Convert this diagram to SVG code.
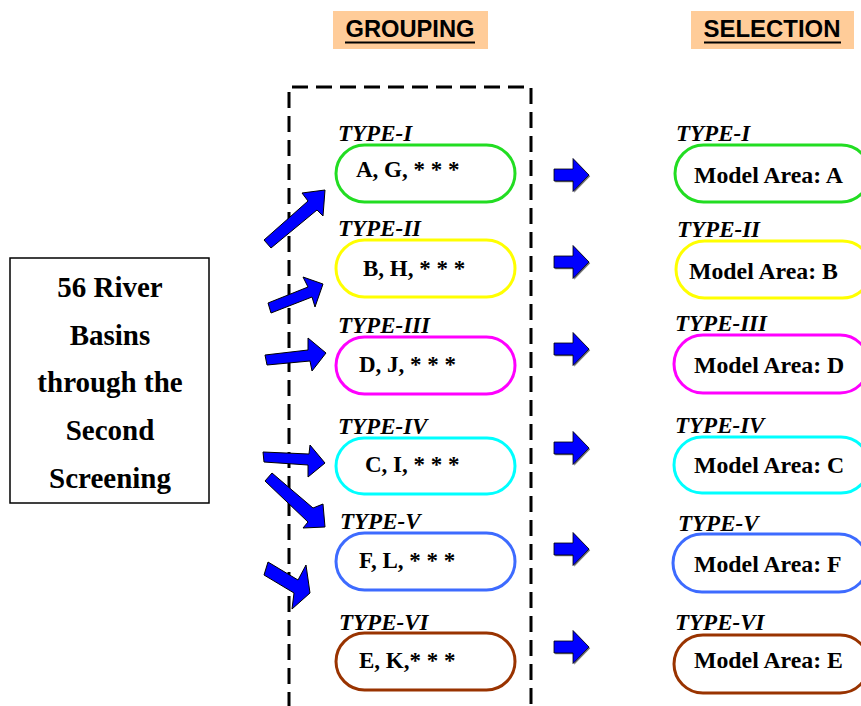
<svg xmlns="http://www.w3.org/2000/svg" width="861" height="706" viewBox="0 0 861 706">
  <style>
    .hdr { fill: #ffcc99; }
    .hdrtxt { font-family: "Liberation Sans", Arial, sans-serif; font-weight: bold; font-size: 24px; fill: #000; }
    .uline { stroke: #000; stroke-width: 1.8; }
    .type { font-family: "Liberation Serif", "Times New Roman", serif; font-weight: bold; font-style: italic; font-size: 23px; fill: #000; }
    .item { font-family: "Liberation Serif", "Times New Roman", serif; font-weight: bold; font-size: 23px; fill: #000; }
    .area { font-family: "Liberation Serif", "Times New Roman", serif; font-weight: bold; font-size: 23.8px; fill: #000; }
    .src { font-family: "Liberation Serif", "Times New Roman", serif; font-weight: bold; font-size: 29px; fill: #000; }
    .pill { fill: #fff; stroke-width: 3; }
    .frame { fill: none; stroke: #000; stroke-width: 3; stroke-dasharray: 16 8; }
    .fat { fill: #0000ff; stroke: #000; stroke-width: 1; stroke-linejoin: miter; }
    .c1 { stroke: #22dd22; }
    .c2 { stroke: #ffff00; }
    .c3 { stroke: #ff00ff; }
    .c4 { stroke: #00ffff; }
    .c5 { stroke: #3d6bff; }
    .c6 { stroke: #993300; }
  </style>
  <defs>
    <g id="rarrow">
      <path d="M1.2,-4.8 H20.2 V-15.3 L36.2,1.2 L20.2,17.7 V7.2 H1.2 Z" fill="#777"/>
      <path d="M0,-6 H19 V-16.5 L35,0 L19,16.5 V6 H0 Z" fill="#0000ff" stroke="#000" stroke-width="0.8"/>
    </g>
  </defs>

  <rect width="861" height="706" fill="#fff"/>

  <!-- column headers -->
  <g id="hdr-grouping">
    <rect class="hdr" x="333" y="11" width="155" height="38"/>
    <text class="hdrtxt" x="410" y="37" text-anchor="middle" textLength="129" lengthAdjust="spacingAndGlyphs">GROUPING</text>
    <line class="uline" x1="345" y1="42.5" x2="475" y2="42.5"/>
  </g>
  <g id="hdr-selection">
    <rect class="hdr" x="691" y="11" width="163" height="38"/>
    <text class="hdrtxt" x="772" y="37" text-anchor="middle" textLength="137" lengthAdjust="spacingAndGlyphs">SELECTION</text>
    <line class="uline" x1="704" y1="42.5" x2="841" y2="42.5"/>
  </g>

  <!-- source box -->
  <g id="source">
    <rect x="10" y="258" width="199" height="245" fill="#fff" stroke="#000" stroke-width="1.5"/>
    <text class="src" x="110" y="297" text-anchor="middle">56 River</text>
    <text class="src" x="110" y="345" text-anchor="middle">Basins</text>
    <text class="src" x="110" y="392" text-anchor="middle">through the</text>
    <text class="src" x="110" y="440" text-anchor="middle">Second</text>
    <text class="src" x="110" y="488" text-anchor="middle">Screening</text>
  </g>

  <!-- dashed grouping frame -->
  <path id="group-frame" class="frame" d="M289,708 V87 H531 V708"/>

  <!-- grouping column -->
  <g id="g-type1">
    <text class="type" x="338" y="141">TYPE-I</text>
    <rect class="pill c1" x="336" y="145" width="179" height="57" rx="28.5"/>
    <text class="item" x="356" y="177">A, G, * * *</text>
  </g>
  <g id="g-type2">
    <text class="type" x="338" y="236">TYPE-II</text>
    <rect class="pill c2" x="336" y="240" width="179" height="57" rx="28.5"/>
    <text class="item" x="363" y="276">B, H, * * *</text>
  </g>
  <g id="g-type3">
    <text class="type" x="338" y="333">TYPE-III</text>
    <rect class="pill c3" x="336" y="337" width="179" height="57" rx="28.5"/>
    <text class="item" x="359" y="372">D, J, * * *</text>
  </g>
  <g id="g-type4">
    <text class="type" x="338" y="434">TYPE-IV</text>
    <rect class="pill c4" x="336" y="438" width="179" height="56" rx="28"/>
    <text class="item" x="365" y="472">C, I, * * *</text>
  </g>
  <g id="g-type5">
    <text class="type" x="340" y="529">TYPE-V</text>
    <rect class="pill c5" x="336" y="533" width="179" height="57" rx="28.5"/>
    <text class="item" x="359" y="568">F, L, * * *</text>
  </g>
  <g id="g-type6">
    <text class="type" x="339" y="630">TYPE-VI</text>
    <rect class="pill c6" x="336" y="633" width="179" height="57" rx="28.5"/>
    <text class="item" x="359" y="668">E, K,* * *</text>
  </g>

  <!-- selection column -->
  <g id="s-type1">
    <text class="type" x="676" y="141">TYPE-I</text>
    <rect class="pill c1" x="675" y="145" width="195" height="57" rx="28.5"/>
    <text class="area" x="694" y="183">Model Area: A</text>
  </g>
  <g id="s-type2">
    <text class="type" x="677" y="237">TYPE-II</text>
    <rect class="pill c2" x="676" y="241" width="195" height="57" rx="28.5"/>
    <text class="area" x="689" y="279">Model Area: B</text>
  </g>
  <g id="s-type3">
    <text class="type" x="675" y="331">TYPE-III</text>
    <rect class="pill c3" x="674" y="335" width="195" height="58" rx="29"/>
    <text class="area" x="694" y="373">Model Area: D</text>
  </g>
  <g id="s-type4">
    <text class="type" x="675" y="433">TYPE-IV</text>
    <rect class="pill c4" x="674" y="437" width="195" height="56" rx="28"/>
    <text class="area" x="694" y="473">Model Area: C</text>
  </g>
  <g id="s-type5">
    <text class="type" x="678" y="531">TYPE-V</text>
    <rect class="pill c5" x="673" y="534" width="195" height="58" rx="29"/>
    <text class="area" x="694" y="572">Model Area: F</text>
  </g>
  <g id="s-type6">
    <text class="type" x="675" y="630">TYPE-VI</text>
    <rect class="pill c6" x="674" y="635" width="195" height="58" rx="29"/>
    <text class="area" x="694" y="668">Model Area: E</text>
  </g>

  <!-- connectors -->
  <g id="connectors">
    <!-- source box to each group -->
    <polygon class="fat" points="264,240 308,201 302,193 325,190 323,216 317,210 271,248"/>
    <polygon class="fat" points="268,303 308,287 303,277 323,284 315,307 312,297 271,313"/>
    <polygon class="fat" points="265,355 308,350 308,338 326,353 312,371 310,361 267,365"/>
    <polygon class="fat" points="263,452 309,454 310,445 325,463 308,477 308,465 264,462"/>
    <polygon class="fat" points="272,473 313,508 323,504 325,527 303,528 308,522 265,481"/>
    <polygon class="fat" points="268,562 298,580 306,565 310,593 292,609 294,593 264,575"/>
    <!-- group to chosen model area -->
    <use href="#rarrow" x="554" y="175"/>
    <use href="#rarrow" x="554" y="262"/>
    <use href="#rarrow" x="554" y="349"/>
    <use href="#rarrow" x="554" y="448"/>
    <use href="#rarrow" x="554" y="549"/>
    <use href="#rarrow" x="554" y="647"/>
  </g>
</svg>
